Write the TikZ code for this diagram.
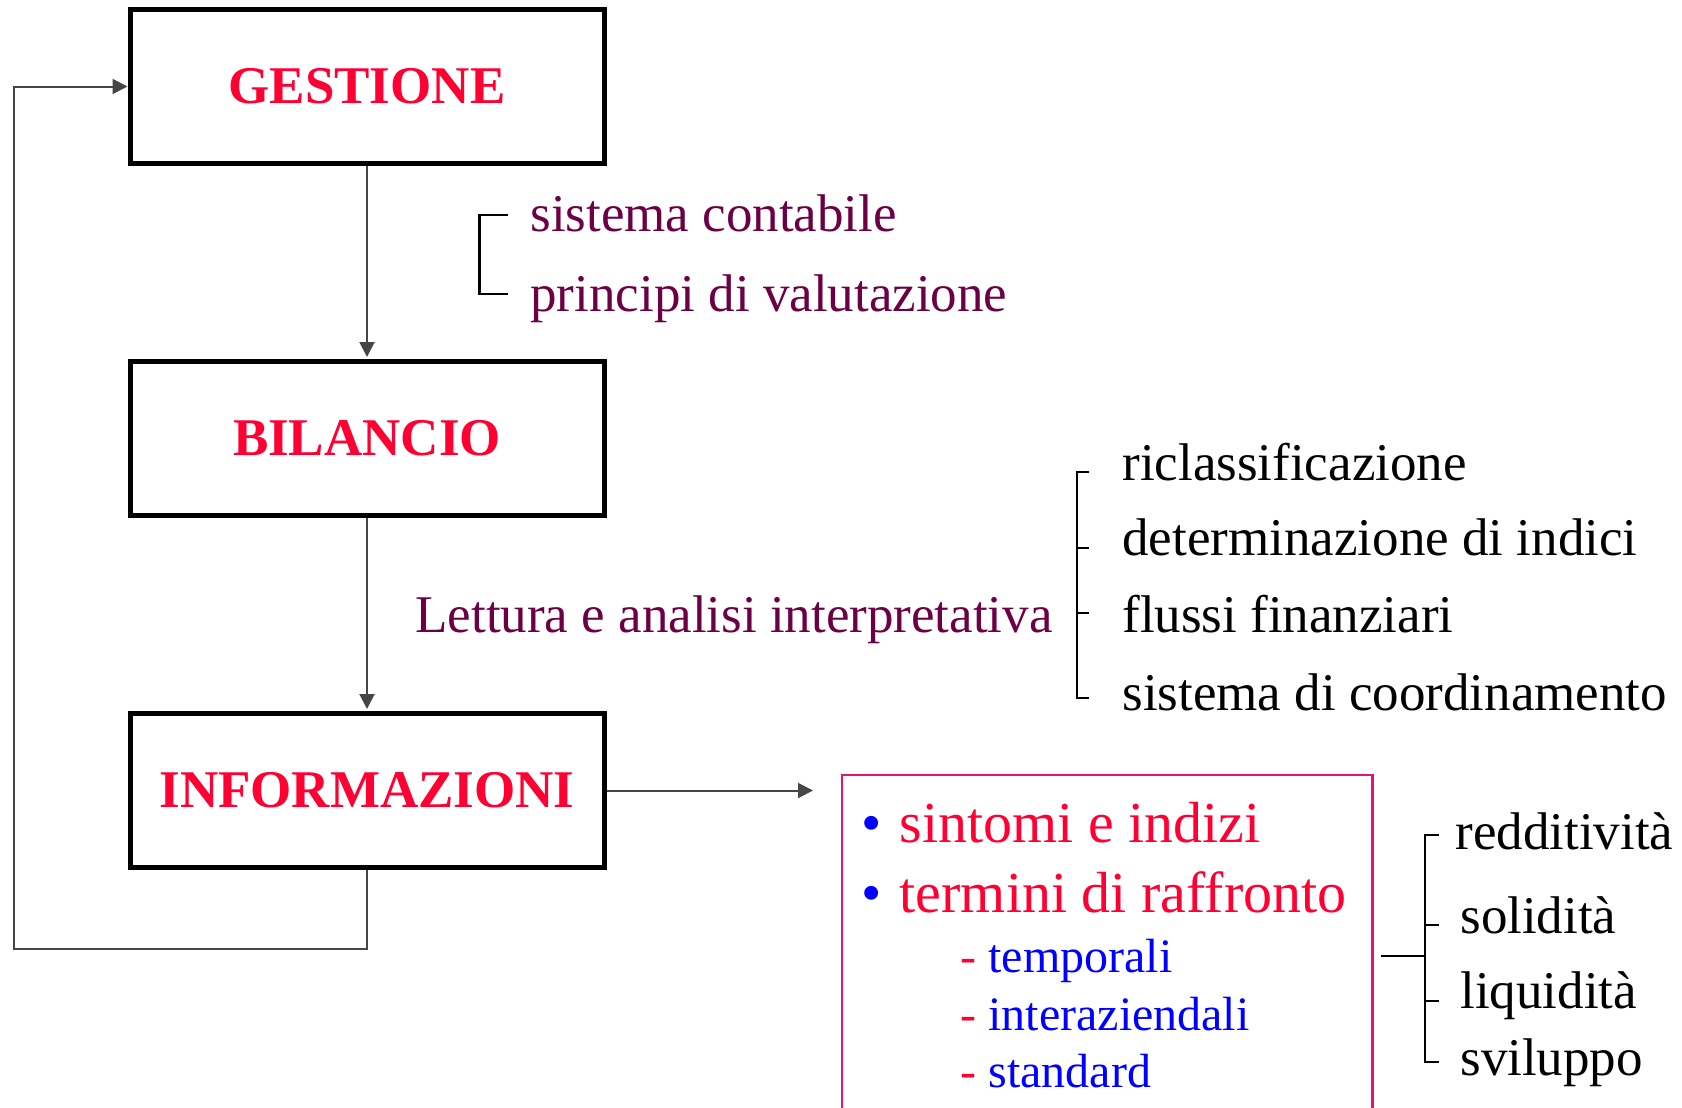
\documentclass[tikz,border=0pt]{standalone}
\usepackage{fontspec}
\setmainfont{Liberation Serif}
\usepackage{xcolor}
\usetikzlibrary{positioning, arrows.meta}

\definecolor{titlered}{RGB}{255,0,51}
\definecolor{wine}{RGB}{108,0,68}
\definecolor{pinkline}{RGB}{225,20,125}
\definecolor{arrowgray}{RGB}{70,70,70}

\begin{document}
\begin{tikzpicture}[
    x=0.5pt, y=-0.5pt,
    node distance=96.5pt,
    box/.style={rectangle, draw=black, line width=2.5pt, minimum width=237pt, minimum height=77pt, text=titlered, font=\fontsize{26.5}{30}\selectfont\bfseries},
    txt/.style={inner sep=0pt, anchor=base west, font=\fontsize{26.5}{30}\selectfont},
    bullettxt/.style={txt, font=\fontsize{29}{33}\selectfont, text=titlered},
    subtxt/.style={txt, font=\fontsize{24}{28}\selectfont, text=blue},
    line/.style={draw=arrowgray, line width=1pt, -{Triangle[length=7.5pt, width=7.5pt]}},
    brace/.style={draw=black, line width=1.2pt}
    ]
    \useasboundingbox (0,0) rectangle (1682,1108);

    % Boxes
    \node (gestione) [box] at (367,86.5) {GESTIONE};
    \node (bilancio) [box, below=of gestione] {BILANCIO};
    \node (informazioni) [box, below=of bilancio] {INFORMAZIONI};

    % Texts
    \node (contabile) [txt, text=wine] at (530,231.7) {sistema contabile};
    \node (principi) [txt, text=wine] at (530,311.7) {principi di valutazione};
    \node (lettura) [txt, text=wine] at (415,632) {Lettura e analisi interpretativa};
    \node (riclass) [txt] at (1122,480) {riclassificazione};
    \node (indici) [txt] at (1122,555) {determinazione di indici};
    \node (flussi) [txt] at (1122,632) {flussi finanziari};
    \node (coord) [txt] at (1122,710) {sistema di coordinamento};

    % Box of the signals
    \node (esame) [rectangle, draw=pinkline, line width=1.2pt, minimum width=265.25pt, minimum height=181pt] at (1107.25,956) {};
    \node (sintomi) [bullettxt] at (861,842) {\textcolor{blue}{\textbullet}\hspace{9pt}sintomi e indizi};
    \node (raffronto) [bullettxt] at (861,912) {\textcolor{blue}{\textbullet}\hspace{9pt}termini di raffronto};
    \node (temporali) [subtxt] at (960,972) {\textcolor{titlered}{-}\hspace{6pt}temporali};
    \node (interaz) [subtxt] at (960,1030) {\textcolor{titlered}{-}\hspace{6pt}interaziendali};
    \node (standard) [subtxt] at (960,1087) {\textcolor{titlered}{-}\hspace{6pt}standard};

    \node (redditivita) [txt] at (1455,849) {redditività};
    \node (solidita) [txt] at (1460,933) {solidità};
    \node (liquidita) [txt] at (1460,1008) {liquidità};
    \node (sviluppo) [txt] at (1460,1075) {sviluppo};

    \coordinate (loop) at (14,949);
    \coordinate (esamein) at (813,790.5);

    % Arrows
    \draw [line, shorten >=1pt] (gestione) -- (bilancio);
    \draw [line, shorten >=1pt] (bilancio) -- (informazioni);
    \draw [line] (informazioni.east) -- (esamein);
    \draw [line] (informazioni.south) |- (loop) |- (gestione.west);

    % Brackets
    \draw [brace] (507.5,215) -| (479.5,294) -- (507.5,294);
    \draw [brace] (1089,472) -| (1077,698) -- (1089,698);
    \foreach \y in {548,613} \draw [brace] (1077,\y) -- (1089,\y);
    \draw [brace] (1438.5,835) -| (1425,1062) -- (1438.5,1062);
    \foreach \y in {925,1001} \draw [brace] (1425,\y) -- (1438.5,\y);
    \draw [brace] ([xshift=3.75pt]esame.east) -- (1425,956);
\end{tikzpicture}
\end{document}
